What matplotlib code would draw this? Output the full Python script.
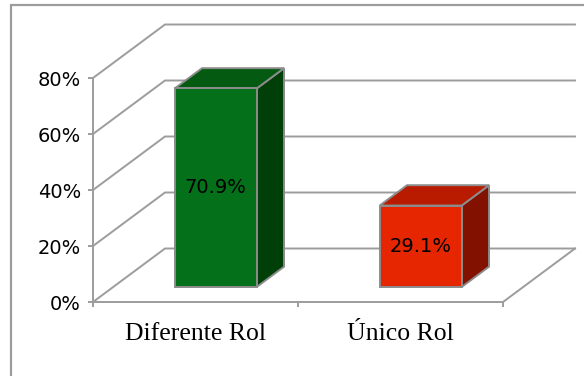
import matplotlib.pyplot as plt
from matplotlib.patches import Polygon, Rectangle

categories = ["Diferente Rol", "Único Rol"]
values = [70.9, 29.1]
labels = ["70.9%", "29.1%"]
front_colors = ["#05701a", "#e52600"]
top_colors = ["#045a10", "#b81b00"]
side_colors = ["#003f08", "#821100"]
yticks = [0, 20, 40, 60, 80]
ytick_labels = ["0%", "20%", "40%", "60%", "80%"]

W, H = 584, 376
fig = plt.figure(figsize=(W / 100, H / 100), dpi=100)

# front plane of the 3d box, in pixels
x0, x1, ytop, ybot = 93, 503, 78, 302
ax = fig.add_axes([x0 / W, 1 - ybot / H, (x1 - x0) / W, (ybot - ytop) / H])
ax.set_xlim(-0.5, 1.5)
ax.set_ylim(0, 80)

# depth offsets in data units (72 px right, 53 px up)
DX = 72 / ((x1 - x0) / 2)
DY = 53.5 / ((ybot - ytop) / 80)
grid_c = "#9c9c9c"
edge_c = "#8c8c8c"
lw = 1.4


def proj(x, y, z):
    return x + z * DX, y + z * DY


# walls and gridlines
for v in yticks:
    a = proj(-0.5, v, 0)
    b = proj(-0.5, v, 1)
    c = proj(1.5, v, 1)
    ax.plot([a[0], b[0], c[0]], [a[1], b[1], c[1]], color=grid_c, lw=lw,
            clip_on=False, zorder=1, solid_joinstyle="miter")
a = proj(1.5, 0, 0)
b = proj(1.5, 0, 1)
ax.plot([a[0], b[0]], [a[1], b[1]], color=grid_c, lw=lw, clip_on=False, zorder=1)

# bars
bw = 0.4
z0, z1 = 0.28, 0.66
for i, v in enumerate(values):
    l, r = i - bw / 2, i + bw / 2
    front = [proj(l, 0, z0), proj(r, 0, z0), proj(r, v, z0), proj(l, v, z0)]
    top = [proj(l, v, z0), proj(r, v, z0), proj(r, v, z1), proj(l, v, z1)]
    side = [proj(r, 0, z0), proj(r, 0, z1), proj(r, v, z1), proj(r, v, z0)]
    for pts, col in [(side, side_colors[i]), (top, top_colors[i]), (front, front_colors[i])]:
        ax.add_patch(Polygon(pts, closed=True, facecolor=col, edgecolor=edge_c,
                             lw=lw, clip_on=False, zorder=3, joinstyle="miter"))
    cx, cy = proj(i, v / 2, z0)
    ax.text(cx, cy, labels[i], ha="center", va="center", fontsize=14,
            family="DejaVu Sans", color="black", zorder=4)

for s in ["top", "right"]:
    ax.spines[s].set_visible(False)
for s in ["left", "bottom"]:
    ax.spines[s].set_color(grid_c)
    ax.spines[s].set_linewidth(lw)
ax.set_facecolor("none")

ax.set_yticks(yticks)
ax.set_yticklabels(ytick_labels, fontsize=14, family="DejaVu Sans")
ax.tick_params(axis="y", direction="out", length=3.6, width=lw, color=grid_c, pad=5)

ax.set_xticks([-0.5, 0.5, 1.5])
ax.set_xticklabels([])
ax.set_xticks([0, 1], minor=True)
ax.set_xticklabels(categories, minor=True, fontsize=18.5, family="Liberation Serif")
ax.tick_params(axis="x", which="major", direction="out", length=3.6, width=lw, color=grid_c)
ax.tick_params(axis="x", which="minor", length=0, pad=15)

# outer frame, cut by the picture edges
fig.patches.append(Rectangle((11 / W, -0.1), 1.2, 1.1 - 4.5 / H, transform=fig.transFigure,
                             fill=False, edgecolor=grid_c, lw=1.6))

fig.savefig("out.png", dpi=100)
